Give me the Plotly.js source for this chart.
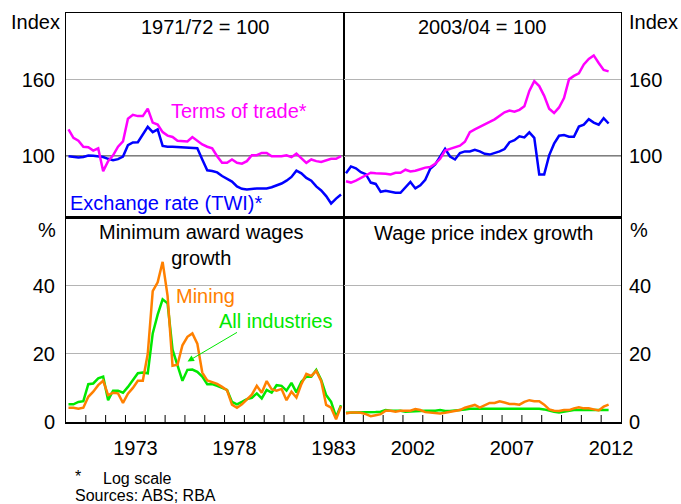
<!DOCTYPE html>
<html>
<head>
<meta charset="utf-8">
<script src="https://cdn.plot.ly/plotly-3.0.1.min.js"></script>
<style>html,body{margin:0;padding:0;background:#fff;}#chart{width:681px;height:504px;}</style>
</head>
<body>
<div id="chart"></div>
<script>
// ---- Data (quarterly) ----
const leftStartYear = 1970;
const rightStartYear = 1999;

// Top-left: 1971/72 = 100 (log scale)
const termsOfTradeEarly = [118,112,110,106,105.7,103.5,105,91.2,97,100.5,106,109.5,126,129,128,128,134,123,121.5,116,113.5,112.6,110,109.5,109.5,112.5,110,107.5,106,105,100,96,96,98,96,95.5,97,100.6,100.6,102,102,100,100,100,100.6,99.4,101.6,99,96,98,97,96.5,97.6,98.4,98.4,100];
const exchangeRateEarly = [100,99.8,99.2,99.5,100.4,100.2,100,99.5,98.4,97.6,98.2,99.8,107,108.8,109,114,119.8,116,118,106.5,106,106,105.8,105.7,105.5,105.3,105,98,91.7,91.3,90.5,88.5,87,85.5,83,81.8,81.5,81.8,82,82,82,82.6,83.5,84.5,86,88,91.5,90,87.5,86,83,81,78.2,74.7,77,79];

// Top-right: 2003/04 = 100 (log scale)
const termsOfTradeRecent = [85.7,85,86,87.5,89,90.3,90,90,89.8,89.4,90.3,90.3,92,91,91.4,92.3,93.2,93.5,95.4,98.4,103.5,104.6,105.6,106.7,109.3,116,118,120,121.5,123.5,125.5,128,131,132.4,131.5,133,136,149.5,158.7,154,145,134,130.5,135,143,160.5,164,166.5,176,182,186,177.5,170,168.6];
const exchangeRateRecent = [90,93.9,92.8,90.6,89.5,85,84.3,80.3,80.8,80.3,79.8,79.8,82.4,85.3,82,83.6,86.5,92.5,95,99.4,104.6,99.8,98,102,103,103,104,103,101.5,101,101.8,103,104.5,109,110.3,113,112.3,115.8,112,89.4,89.4,100.5,108,113.4,113.9,112.7,112.7,120,121.4,125.6,123,121.4,126.4,122.3];

// Bottom-left: minimum award wages growth (%)
const miningEarly = [4.2,4.2,3.9,4.2,7.4,8.9,10.8,12.1,7.9,8.6,8.4,5.6,8.3,10,12.1,12.1,20,38.4,41,47,37,16.5,16.8,22.5,25,26,23,14.5,12.2,11.8,11.2,10.3,9.3,5.1,4.2,5.2,6.5,8,10.6,8.6,12,9.6,9.2,9.7,6.4,8.9,7.2,11.1,14.1,13.5,15,12,5,4.2,0.8,4.6];
const allIndustriesEarly = [5.2,5.2,5.9,6.1,11.1,11.3,12.8,13.3,6.4,9.2,9.2,8.6,10.3,12.3,14.3,14.5,14.3,26,31.5,36,34.8,21.2,16.3,12.1,15.3,15.4,14.7,13.3,11.1,11.1,10.6,9.9,9.4,5.9,5.2,5.9,6.7,7.1,8.4,6.9,9.4,8.6,10.8,10.6,9.2,11.5,8.7,11.8,13.3,13.3,15.3,12.3,7.9,5.9,1.5,4.9];

// Bottom-right: wage price index growth (%)
const miningRecent = [2.5,2.8,2.8,2.7,2.3,1.7,2.0,2.3,3.3,3.3,3.0,3.3,3.3,3.3,3.8,3.5,2.9,2.7,2.5,2.5,2.7,3.0,3.2,3.5,4.2,4.7,5.0,4.2,4.8,5.6,5.6,6.1,5.7,5.3,5.3,5.1,5.9,6.4,6.1,6.1,5.1,3.7,3.3,3.2,3.5,3.5,4.0,4.3,4.0,4.0,3.7,3.4,4.5,5.1];
const allIndustriesRecent = [2.7,2.7,2.7,2.7,2.7,2.7,2.9,3.0,3.5,3.3,3.3,3.3,3.0,3.0,3.2,3.2,3.3,3.2,3.3,3.5,3.2,3.2,3.3,3.5,3.7,3.9,3.9,3.9,3.9,3.8,3.8,3.8,3.8,3.9,4.0,4.0,4.0,3.9,4.0,3.9,3.7,3.3,3.0,2.8,3.1,3.3,3.5,3.5,3.5,3.5,3.5,3.3,3.5,3.5];

const leftTickLabels = ['1973','1978','1983'];
const rightTickLabels = ['2002','2007','2012'];

// ---- Helpers ----
function quarters(startYear, n) { const a = []; for (let i = 0; i < n; i++) a.push(startYear + (i + 0.5) / 4); return a; }
function years(start, end) { const a = []; for (let y = start; y <= end; y++) a.push(y); return a; }
const W = 681, H = 504, L = 66, R = 60, T = 13, B = 82;
const pw = W - L - R, ph = H - T - B;
const px = x => (x - L) / pw;
const py = y => (H - B - y) / ph;

const C = {mag: '#ff00ff', blue: '#0000ff', orange: '#ff8000', green: '#00e800'};
const LW = 2.5;
const FONT = 'Liberation Sans, Arial, sans-serif';

const xl = quarters(leftStartYear, 56);
const xr = quarters(rightStartYear, 54);

const traces = [
  {x: xl, y: exchangeRateEarly, xaxis: 'x3', yaxis: 'y3', mode: 'lines', line: {color: C.blue, width: LW}},
  {x: xl, y: termsOfTradeEarly, xaxis: 'x3', yaxis: 'y3', mode: 'lines', line: {color: C.mag, width: LW}},
  {x: xr, y: exchangeRateRecent, xaxis: 'x4', yaxis: 'y4', mode: 'lines', line: {color: C.blue, width: LW}},
  {x: xr, y: termsOfTradeRecent, xaxis: 'x4', yaxis: 'y4', mode: 'lines', line: {color: C.mag, width: LW}},
  {x: xl, y: allIndustriesEarly, xaxis: 'x', yaxis: 'y', mode: 'lines', line: {color: C.green, width: LW}},
  {x: xl, y: miningEarly, xaxis: 'x', yaxis: 'y', mode: 'lines', line: {color: C.orange, width: LW}},
  {x: xr, y: allIndustriesRecent, xaxis: 'x2', yaxis: 'y2', mode: 'lines', line: {color: C.green, width: LW}},
  {x: xr, y: miningRecent, xaxis: 'x2', yaxis: 'y2', mode: 'lines', line: {color: C.orange, width: LW}}
];
traces.forEach(t => { t.hoverinfo = 'skip'; t.showlegend = false; });

const splitX = 0.5, splitY = 0.5;
const leftRange = [1970, 1984], rightRange = [1999, 2013];

const botX = (dom, range, labels) => ({
  domain: dom, range: range, tickmode: 'array',
  tickvals: labels.map(s => Number(s) + 0.5), ticktext: labels,
  ticks: '', ticklabelstandoff: 7,
  showline: true, linecolor: '#000', linewidth: 1.5, mirror: true,
  showgrid: false, zeroline: false, fixedrange: true
});
const topX = (dom, range) => ({
  domain: dom, range: range, showticklabels: false, ticks: '',
  showline: true, linecolor: '#000', linewidth: 1.5, mirror: true,
  showgrid: false, zeroline: false, fixedrange: true
});
const logRange = [1.836, 2.383];
const hundredFrac = (2 - logRange[0]) / (logRange[1] - logRange[0]);
const grid = '#b4b4b4';
const baseY = {ticks: '', showgrid: true, gridcolor: grid, gridwidth: 1, zeroline: false,
  showline: true, linecolor: '#000', linewidth: 1, mirror: true, fixedrange: true, tickmode: 'array'};

// year tick marks (inside, pointing up from the bottom axis), placed through the x scales
const tickLen = 7 / ph;
const yearTickShapes = [];
years(leftRange[0] + 1, leftRange[1] - 1).forEach(y => yearTickShapes.push(
  {type: 'line', xref: 'x', x0: y, x1: y, yref: 'paper', y0: 0, y1: tickLen, line: {color: '#000', width: 1}, layer: 'below'}));
years(rightRange[0] + 1, rightRange[1] - 1).forEach(y => yearTickShapes.push(
  {type: 'line', xref: 'x2', x0: y, x1: y, yref: 'paper', y0: 0, y1: tickLen, line: {color: '#000', width: 1}, layer: 'below'}));

const layout = {
  width: W, height: H,
  margin: {l: L, r: R, t: T, b: B, pad: 0},
  paper_bgcolor: '#fff', plot_bgcolor: 'rgba(0,0,0,0)',
  font: {family: FONT, size: 20, color: '#000'},
  showlegend: false,
  xaxis: Object.assign(botX([0, splitX], leftRange, leftTickLabels), {anchor: 'y'}),
  xaxis2: Object.assign(botX([splitX, 1], rightRange, rightTickLabels), {anchor: 'y2'}),
  xaxis3: Object.assign(topX([0, splitX], leftRange), {anchor: 'y3'}),
  xaxis4: Object.assign(topX([splitX, 1], rightRange), {anchor: 'y4'}),
  yaxis: Object.assign({}, baseY, {domain: [0, splitY], anchor: 'x', range: [0, 60], tickvals: [0, 20, 40], ticklabelstandoff: 6}),
  yaxis2: Object.assign({}, baseY, {domain: [0, splitY], anchor: 'x2', side: 'right', range: [0, 60], tickvals: [0, 20, 40], ticklabelstandoff: 3}),
  yaxis3: Object.assign({}, baseY, {domain: [splitY, 1], anchor: 'x3', type: 'log', range: logRange, tickvals: [100, 160], ticktext: ['100', '160'], ticklabelstandoff: 6}),
  yaxis4: Object.assign({}, baseY, {domain: [splitY, 1], anchor: 'x4', side: 'right', type: 'log', range: logRange, tickvals: [100, 160], ticktext: ['100', '160'], ticklabelstandoff: 3}),
  shapes: [
    {type: 'line', xref: 'paper', x0: 0, x1: 1, yref: 'paper',
     y0: splitY + (1 - splitY) * hundredFrac, y1: splitY + (1 - splitY) * hundredFrac,
     line: {color: '#000', width: 1.2}, layer: 'below'}
  ].concat(yearTickShapes),
  annotations: []
};

const ann = (text, x, y, opts) => Object.assign({
  text: text, xref: 'paper', yref: 'paper', x: px(x), y: py(y),
  xanchor: 'center', yanchor: 'middle', showarrow: false,
  font: {family: FONT, size: 20, color: '#000'}
}, opts || {});

layout.annotations.push(
  ann('Index', 62, 21.5, {xanchor: 'right'}),
  ann('Index', 627, 21.5, {xanchor: 'left'}),
  ann('%', 58, 229.5, {xanchor: 'right'}),
  ann('%', 628, 229.5, {xanchor: 'left'}),
  ann('1971/72 = 100', 204.5, 27.5),
  ann('2003/04 = 100', 482, 27.5),
  ann('Minimum award wages<br>growth', 201, 245),
  ann('Wage price index growth', 483, 232.5),
  ann('Terms of trade*', 238.7, 111, {font: {family: FONT, size: 20, color: C.mag}}),
  ann('Exchange rate (TWI)*', 166, 203, {font: {family: FONT, size: 20, color: C.blue}}),
  ann('Mining', 205.3, 296, {font: {family: FONT, size: 20, color: C.orange}}),
  ann('All industries', 275, 320.5, {font: {family: FONT, size: 20, color: C.green}}),
  {text: '', xref: 'paper', yref: 'paper', x: px(187.5), y: py(361.5), ax: 51, ay: -30,
   showarrow: true, arrowhead: 2, arrowsize: 1.3, arrowwidth: 1, arrowcolor: C.green},
  ann('*', 73, 476, {xanchor: 'left', font: {family: FONT, size: 16, color: '#000'}}),
  ann('Log scale', 100.5, 478.5, {xanchor: 'left', font: {family: FONT, size: 16, color: '#000'}}),
  ann('Sources: ABS; RBA', 72.5, 495.5, {xanchor: 'left', font: {family: FONT, size: 16, color: '#000'}})
);

Plotly.newPlot('chart', traces, layout, {displayModeBar: false, staticPlot: true});
</script>
</body>
</html>
